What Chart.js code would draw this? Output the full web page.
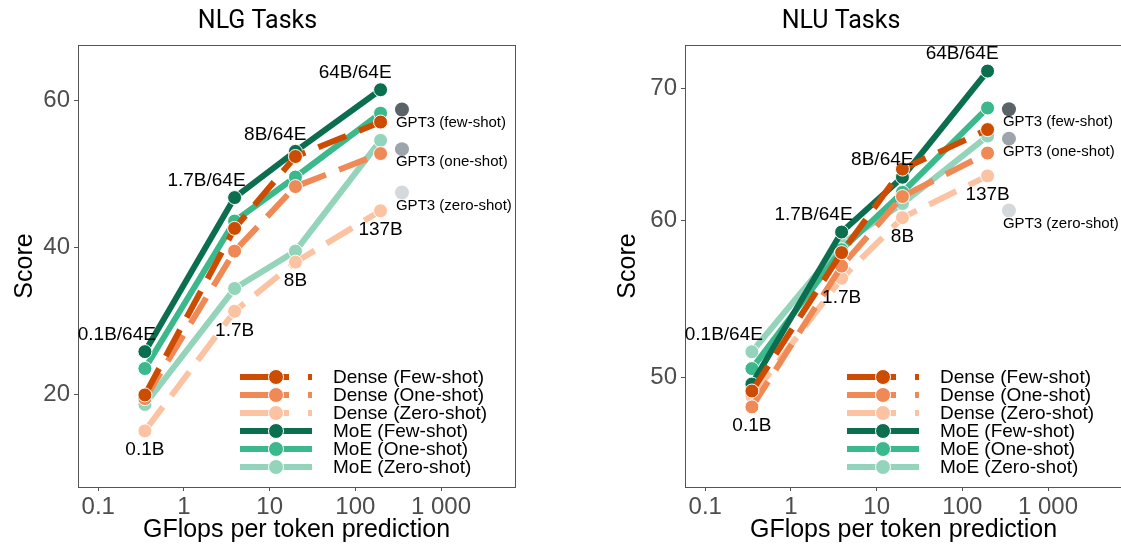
<!DOCTYPE html>
<html>
<head>
<meta charset="utf-8">
<script src="https://cdn.jsdelivr.net/npm/chart.js@4.4.1/dist/chart.umd.min.js"></script>
<style>
  html, body { margin: 0; padding: 0; background: #fff; overflow: hidden; width: 1121px; height: 544px; position: relative; }
  #nlg { position: absolute; left: 0; top: 0; }
  #nlu { position: absolute; left: 560px; top: 0; }
</style>
</head>
<body>
<canvas id="nlg" width="562" height="544"></canvas>
<canvas id="nlu" width="684" height="544"></canvas>
<script>
// x positions (GFlops per token) shared by dense and MoE models
const gflops = [0.35, 3.9, 20, 197];
const gpt3Gflops = 350;
const denseLabels = ['0.1B', '1.7B', '8B', '137B'];
const moeLabels = ['0.1B/64E', '1.7B/64E', '8B/64E', '64B/64E'];
const seriesNames = ['Dense (Few-shot)', 'Dense (One-shot)', 'Dense (Zero-shot)', 'MoE (Few-shot)', 'MoE (One-shot)', 'MoE (Zero-shot)'];
const gpt3Names = ['GPT3 (few-shot)', 'GPT3 (one-shot)', 'GPT3 (zero-shot)'];
const xTicks = [0.1, 1, 10, 100, 1000];

// NLG
const nlgDenseFew = [19.9, 42.6, 52.4, 57.1];
const nlgDenseOne = [19.4, 39.5, 48.3, 52.8];
const nlgDenseZero = [15.0, 31.3, 38.0, 45.0];
const nlgMoeFew = [25.8, 46.8, 53.1, 61.5];
const nlgMoeOne = [23.5, 43.6, 49.6, 58.3];
const nlgMoeZero = [18.6, 34.4, 39.5, 54.6];
const nlgGpt3 = [58.8, 53.4, 47.5];
const nlgYTicks = [20, 40, 60];

// NLU
const nluDenseFew = [49.2, 57.8, 63.7, 66.7];
const nluDenseOne = [48.3, 56.9, 61.7, 64.9];
const nluDenseZero = [48.9, 56.1, 60.2, 63.2];
const nluMoeFew = [49.6, 59.2, 63.1, 71.4];
const nluMoeOne = [50.5, 58.0, 62.0, 68.4];
const nluMoeZero = [51.5, 58.4, 61.2, 66.2];
const nluGpt3 = [68.3, 66.0, 60.7];
const nluYTicks = [50, 60, 70];

const seriesColors = ['#cc4c02', '#ef8a57', '#fcc3a3', '#0b6e4f', '#3bb88c', '#93d4bb'];
const gpt3Colors = ['#5b6369', '#9ea4ab', '#d5d9dc'];

Chart.defaults.font.family = '"Liberation Sans", Arial, sans-serif';
Chart.defaults.color = '#4d4d4d';

const annotations = {
  id: 'annotations',
  afterDatasetsDraw(chart) {
    const { ctx, chartArea: a, scales: { x, y } } = chart;
    const sets = chart.data.datasets;
    ctx.save();
    ctx.strokeStyle = '#555';
    ctx.lineWidth = 1;
    ctx.strokeRect(a.left + 0.5, a.top + 0.5, a.width, a.height);

    // model size labels
    ctx.fillStyle = '#000';
    ctx.font = '19px "Liberation Sans", Arial, sans-serif';
    ctx.textBaseline = 'middle';
    gflops.forEach((g, i) => {
      const px = x.getPixelForValue(g);
      const moeTop = Math.min(...sets.slice(3, 6).map(d => y.getPixelForValue(d.data[i].y)));
      const denseLow = Math.max(...sets.slice(0, 3).map(d => y.getPixelForValue(d.data[i].y)));
      ctx.textAlign = 'right';
      ctx.fillText(moeLabels[i], px + 11, moeTop - 17);
      ctx.textAlign = 'center';
      ctx.fillText(denseLabels[i], px, denseLow + 19);
    });

    // GPT3 labels
    ctx.font = '15px "Liberation Sans", Arial, sans-serif';
    ctx.textAlign = 'left';
    sets.slice(6).forEach((d, i) => {
      ctx.fillText(gpt3Names[i], x.getPixelForValue(d.data[0].x) - 6, y.getPixelForValue(d.data[0].y) + 13);
    });

    // legend
    ctx.font = '19px "Liberation Sans", Arial, sans-serif';
    seriesNames.forEach((name, i) => {
      const ly = a.bottom - 110 + i * 18;
      const x0 = a.left + 162, x1 = a.left + 234, cx = a.left + 198;
      ctx.strokeStyle = seriesColors[i];
      ctx.lineWidth = 6;
      ctx.setLineDash(i < 3 ? [49, 19] : []);
      ctx.beginPath();
      ctx.moveTo(x0, ly);
      ctx.lineTo(x1, ly);
      ctx.stroke();
      ctx.setLineDash([]);
      ctx.beginPath();
      ctx.arc(cx, ly, 7.5, 0, Math.PI * 2);
      ctx.fillStyle = seriesColors[i];
      ctx.fill();
      ctx.lineWidth = 1;
      ctx.strokeStyle = '#fff';
      ctx.stroke();
      ctx.fillStyle = '#000';
      ctx.fillText(name, a.left + 255, ly + 1);
    });
    ctx.restore();
  }
};

function makeChart(id, title, series, gpt3, yType, yMin, yMax, yTicks, yWidth, yTitlePad, rightPad) {
  const datasets = series.map((vals, i) => ({
    label: seriesNames[i],
    data: vals.map((v, j) => ({ x: gflops[j], y: v })),
    borderColor: seriesColors[i],
    backgroundColor: seriesColors[i],
    borderWidth: 6,
    borderDash: i < 3 ? [30, 14] : [],
    pointRadius: 7,
    pointBorderColor: '#fff',
    pointBorderWidth: 1,
    pointHoverRadius: 7,
    tension: 0
  }));
  gpt3.forEach((v, i) => datasets.push({
    label: gpt3Names[i],
    data: [{ x: gpt3Gflops, y: v }],
    showLine: false,
    backgroundColor: gpt3Colors[i],
    borderColor: gpt3Colors[i],
    pointRadius: 7,
    pointBorderWidth: 0
  }));

  return new Chart(document.getElementById(id), {
    type: 'line',
    data: { datasets },
    plugins: [annotations],
    options: {
      responsive: false,
      animation: false,
      layout: { padding: { left: 0, right: rightPad, top: 0, bottom: 0 } },
      plugins: {
        legend: { display: false },
        tooltip: { enabled: false },
        title: {
          display: true, text: title, color: '#000',
          font: { family: 'Roboto', size: 25, weight: 'normal', lineHeight: 1.2 },
          padding: { top: 7, bottom: 8 }
        }
      },
      scales: {
        x: {
          type: 'logarithmic', min: 0.058, max: 7300,
          afterBuildTicks: s => { s.ticks = xTicks.map(v => ({ value: v })); },
          afterFit: s => { s.height = 57; },
          ticks: { font: { size: 24 }, color: '#4d4d4d', padding: 2, maxRotation: 0,
                   callback: v => v === 1000 ? '1 000' : String(v) },
          grid: { drawOnChartArea: false, tickLength: 4, color: '#555' },
          border: { color: '#555' },
          title: { display: true, text: 'GFlops per token prediction', color: '#000',
                   font: { size: 25, lineHeight: 1 }, padding: { top: 0, bottom: 1 } }
        },
        y: {
          type: yType, min: yMin, max: yMax,
          afterBuildTicks: s => { s.ticks = yTicks.map(v => ({ value: v })); },
          afterFit: s => { s.width = yWidth; },
          ticks: { font: { size: 24 }, color: '#4d4d4d', padding: 4, callback: v => String(v) },
          grid: { drawOnChartArea: false, tickLength: 4, color: '#555' },
          border: { color: '#555' },
          title: { display: true, text: 'Score', color: '#000',
                   font: { size: 25, lineHeight: 1 }, padding: { top: yTitlePad, bottom: 0 } }
        }
      }
    }
  });
}

makeChart('nlg', 'NLG Tasks',
  [nlgDenseFew, nlgDenseOne, nlgDenseZero, nlgMoeFew, nlgMoeOne, nlgMoeZero], nlgGpt3,
  'linear', 7.35, 67.6, nlgYTicks, 78, 13, 47);
makeChart('nlu', 'NLU Tasks',
  [nluDenseFew, nluDenseOne, nluDenseZero, nluMoeFew, nluMoeOne, nluMoeZero], nluGpt3,
  'logarithmic', 44, 73.6, nluYTicks, 125, 56, 122);
</script>
</body>
</html>
